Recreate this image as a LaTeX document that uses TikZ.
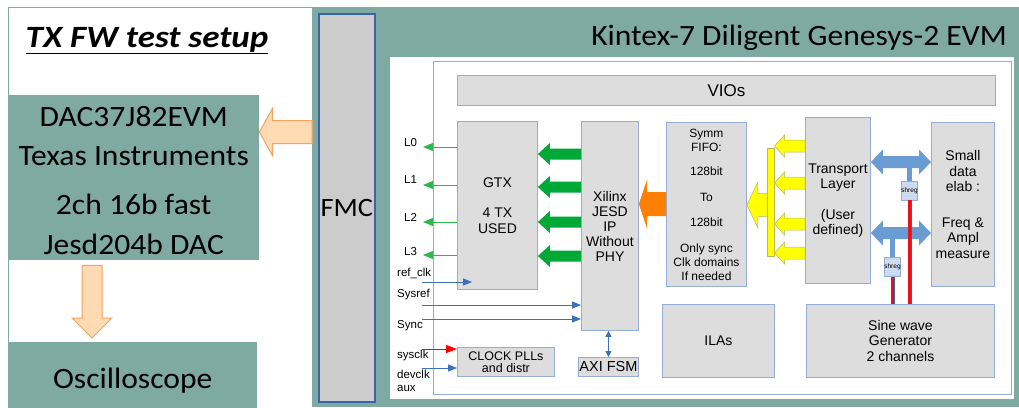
\documentclass[tikz,border=0pt]{standalone}
\usepackage{fontspec}
\setmainfont{Carlito}[FakeStretch=1.07]
\newfontfamily\titlef{Carlito}[FakeStretch=1.13]
\newfontfamily\arialf{Liberation Sans}
\usetikzlibrary{calc,arrows.meta}
\definecolor{tealbg}{HTML}{7FAAA2}
\definecolor{boxfill}{HTML}{DDDDDD}
\definecolor{boxline}{HTML}{93AFD8}
\definecolor{fmcfill}{HTML}{CCCCCC}
\definecolor{fmcline}{HTML}{3A64A8}
\definecolor{arrfill}{HTML}{FFDAB3}
\definecolor{arrline}{HTML}{F4A460}
\definecolor{gthick}{HTML}{00A835}
\definecolor{gthin}{HTML}{2DB84B}
\definecolor{bline}{HTML}{3C70B8}
\definecolor{bthick}{HTML}{6A9BD3}
\definecolor{yfill}{HTML}{FFFF00}
\definecolor{yline}{HTML}{B8B860}
\definecolor{oarr}{HTML}{FF8000}
\definecolor{redl}{HTML}{E8101A}
\definecolor{shregfill}{HTML}{C8D7EC}
% style, tail, tip, shaft half, head half, head length (signed toward tail)
\newcommand\blkarrow[6]{%
 \filldraw[#1] (#3) -- ($(#3)+(#6,#5)$) -- ($(#3)+(#6,#4)$) -- ($(#2)+(0,#4)$) -- ($(#2)+(0,-#4)$) -- ($(#3)+(#6,-#4)$) -- ($(#3)+(#6,-#5)$) -- cycle;}
% style, left point, right point, shaft half, head half, head length
\newcommand\dblarrow[6]{%
 \filldraw[#1] (#2) -- ($(#2)+(#6,-#5)$) -- ($(#2)+(#6,-#4)$) -- ($(#3)+(-#6,-#4)$) -- ($(#3)+(-#6,-#5)$) -- (#3) -- ($(#3)+(-#6,#5)$) -- ($(#3)+(-#6,#4)$) -- ($(#2)+(#6,#4)$) -- ($(#2)+(#6,#5)$) -- cycle;}
\begin{document}
\begin{tikzpicture}[x=1pt,y=-1pt,
 gbox/.style={draw=boxline,fill=boxfill,line width=0.9pt,inner sep=0pt,anchor=north west,align=center,font=\arialf\fontsize{14}{15.5}\selectfont},
 tbox/.style={fill=tealbg,inner sep=0pt,anchor=north west,align=center},
 lbl/.style={font=\arialf\fontsize{11.5}{12.5}\selectfont,inner sep=0pt,anchor=west,align=left},
 thinb/.style={draw=bline,line width=0.9pt,-{Triangle[length=9pt,width=7pt]}},
 thinr/.style={draw=red,line width=0.9pt,-{Triangle[length=11pt,width=8pt]}},
 thing/.style={draw=gthin,line width=0.9pt,-{Triangle[length=10pt,width=8pt]}},
 shreg/.style={draw=boxline,fill=shregfill,line width=0.6pt,minimum width=15,minimum height=19,inner sep=0pt,
   font=\arialf\fontsize{6.5}{6.5}\selectfont,
   path picture={\foreach \k in {0.12,0.24,...,0.95}{\draw[white!60!boxline,line width=0.4pt] ($(path picture bounding box.north west)!\k!(path picture bounding box.south west)$) -- ++(16,0);}}},
 redw/.style={draw=fmcline,double=redl,double distance=2.6pt,line width=0.7pt}
]
\useasboundingbox (0,0) rectangle (1019,407);
\fill[white] (0,0) rectangle (1019,407);
% left panel border
\draw[tealbg,line width=1pt] (8,410) -- (8,7) -- (312,7);
% right teal panel
\fill[tealbg] (312,7) rectangle (1019,407);
\fill[white] (390,57) rectangle (1014,399);
\draw[boxline,line width=0.8pt] (433,61) rectangle (1011,394);

% ---------- left side ----------
\node[font=\titlef\bfseries\itshape\fontsize{31}{31}\selectfont,anchor=base,inner sep=0pt] (title) at (147,47) {\underline{TX FW test setup}};
\node[tbox,minimum width=251,minimum height=162,font=\fontsize{29.5}{38.5}\selectfont] (dac) at (8,95)
  {\rule{0pt}{31.5pt}DAC37J82EVM\\Texas Instruments\\[10.5pt]2ch 16b fast\\[1.5pt]Jesd204b DAC\rule[-6pt]{0pt}{6pt}};
\node[tbox,minimum width=249,minimum height=77,font=\fontsize{29.5}{30}\selectfont] (osc) at (8,342) {Oscilloscope};
\node[draw=fmcline,fill=fmcfill,line width=1.5pt,minimum width=56,minimum height=388,anchor=north west,inner sep=0pt,
  font=\fontsize{26.5}{27}\selectfont] (fmc) at (318,13) {FMC};
\node[anchor=base east,font=\fontsize{29.5}{30}\selectfont,inner sep=0pt] (kt) at (1007,45) {Kintex-7 Diligent Genesys-2 EVM};

\coordinate (oa1) at (312,132);
\coordinate (oa2) at (dac.east |- 0,132);
\blkarrow{fill=arrfill,draw=arrline,line width=1pt}{oa1}{oa2}{11.5}{23.5}{13}
\coordinate (da1) at ($(dac.south west)+(84,5)$);
\coordinate (da2) at ($(osc.north west)+(84,-4)$);
\filldraw[fill=arrfill,draw=arrline,line width=1pt] (da2) -- ($(da2)+(-20,-20)$) -- ($(da2)+(-10,-20)$) -- ($(da1)+(-10,0)$) -- ($(da1)+(10,0)$) -- ($(da2)+(10,-20)$) -- ($(da2)+(20,-20)$) -- cycle;

% ---------- inner FPGA diagram ----------
\node[gbox,minimum width=538,minimum height=30,font=\arialf\fontsize{17}{18}\selectfont] (vio) at (457,75) {VIOs};
\node[gbox,minimum width=80,minimum height=168] (gtx) at (457,121) {GTX\\[14.5pt]4 TX\\USED};
\node[gbox,minimum width=57,minimum height=209,font=\arialf\fontsize{14}{15}\selectfont] (xil) at (581,121) {Xilinx\\JESD\\IP\\Without\\PHY};
\node[gbox,minimum width=80,minimum height=164,font=\arialf\fontsize{12}{14}\selectfont] (fifo) at (666,122)
  {Symm\\FIFO:\\[10pt]128bit\\[12pt]To\\[11pt]128bit\\[12pt]Only sync\\Clk domains\\If needed};
\node[gbox,minimum width=65,minimum height=166] (tl) at (805,117) {Transport\\Layer\\[15pt](User\\defined)};
\node[gbox,minimum width=63,minimum height=164] (sm) at (931,122) {Small\\data\\elab :\\[20pt]Freq \&\\Ampl\\measure};
\node[gbox,minimum width=112,minimum height=73] (ila) at (662,304) {ILAs};
\node[gbox,minimum width=188,minimum height=73] (sine) at (806,304) {Sine wave\\Generator\\2 channels};
\node[gbox,minimum width=97,minimum height=29,font=\arialf\fontsize{12.5}{12}\selectfont] (clk) at (457,347) {CLOCK PLLs\\and distr};
\node[gbox,minimum width=60,minimum height=19,font=\arialf\fontsize{14.5}{15}\selectfont] (axi) at (578,357) {AXI FSM};

% labels
\node[lbl] (l0) at (404,143) {L0};
\node[lbl] (l1) at (404,180) {L1};
\node[lbl] (l2) at (404,217) {L2};
\node[lbl] (l3) at (404,252) {L3};
\node[lbl] (rc) at (397,273) {ref\_clk};
\node[lbl] (sr) at (397,295) {Sysref};
\node[lbl] (sy) at (397,326) {Sync};
\node[lbl] (sc) at (397,356) {sysclk};
\node[lbl] (dc) at (397,381) {devclk\\aux};

% thin green lane arrows
\foreach \yy/\nm in {147/e0,185/e1,222/e2,255/e3}{
  \coordinate (\nm) at (423,\yy);
  \draw[thing] (gtx.west |- \nm) -- (\nm);
}
% blue / red thin arrows
\coordinate (rcs) at (422,282); \coordinate (rce) at (472,282);
\draw[thinb] (rcs) -- (rce);
\coordinate (srs) at (422,305); \draw[thinb] (srs) -- (xil.west |- srs);
\coordinate (sys) at (422,319); \draw[thinb] (sys) -- (xil.west |- sys);
\coordinate (scs) at (422,349); \draw[thinr] (scs) -- (clk.west |- scs);
\coordinate (dcs) at (422,368); \draw[thinb] (dcs) -- (clk.west |- dcs);
\draw[draw=bline,line width=0.9pt,{Triangle[length=6pt,width=6pt]}-{Triangle[length=6pt,width=6pt]}] (axi.north) -- (axi.north |- xil.south);

% thick green arrows
\foreach \yy in {154,187,222,256}{
  \coordinate (ga) at (xil.west |- 0,\yy);
  \coordinate (gb) at (gtx.east |- 0,\yy);
  \blkarrow{fill=gthick,draw=none}{ga}{gb}{5.5}{11}{12}
}
% orange arrow
\coordinate (ob1) at (fifo.west |- 0,204);
\coordinate (ob2) at (xil.east |- 0,204);
\blkarrow{fill=oarr,draw=none}{ob1}{ob2}{12}{24}{8}
% yellow arrows
\node[fill=yfill,draw=yline,line width=0.5pt,minimum width=7,minimum height=108,inner sep=0pt,anchor=north west] (ybar) at (767,148) {};
\coordinate (yb1) at (ybar.west |- 0,205);
\coordinate (yb2) at (fifo.east |- 0,205);
\blkarrow{fill=yfill,draw=yline,line width=0.5pt}{yb1}{yb2}{11.5}{23}{11}
\foreach \yy in {146,183,224,253}{
  \coordinate (ya) at (tl.west |- 0,\yy);
  \coordinate (yb) at (ybar.east |- 0,\yy);
  \blkarrow{fill=yfill,draw=yline,line width=0.5pt}{ya}{yb}{6}{11}{10}
}
% shift registers and wires
\coordinate (sh1c) at (909.5,190.5);
\coordinate (sh2c) at (892.5,267);
\coordinate (st1) at (909.5,162);
\coordinate (st2) at (892.5,233);
\draw[bthick,line width=5pt] (st1) -- (sh1c);
\draw[bthick,line width=5pt] (st2) -- (sh2c);
% blue double arrows
\coordinate (d1a) at (tl.east |- 0,162); \coordinate (d1b) at (sm.west |- 0,162);
\coordinate (d2a) at (tl.east |- 0,233); \coordinate (d2b) at (sm.west |- 0,233);
\dblarrow{fill=bthick,draw=none}{d1a}{d1b}{6}{12.5}{12}
\dblarrow{fill=bthick,draw=none}{d2a}{d2b}{6}{12.5}{12}
\node[shreg] (sh1) at (sh1c) {shreg};
\node[shreg] (sh2) at (sh2c) {shreg};
\draw[redw] (sh1.south) -- (sh1.south |- sine.north);
\draw[redw] (sh2.south) -- (sh2.south |- sine.north);
\end{tikzpicture}
\end{document}
